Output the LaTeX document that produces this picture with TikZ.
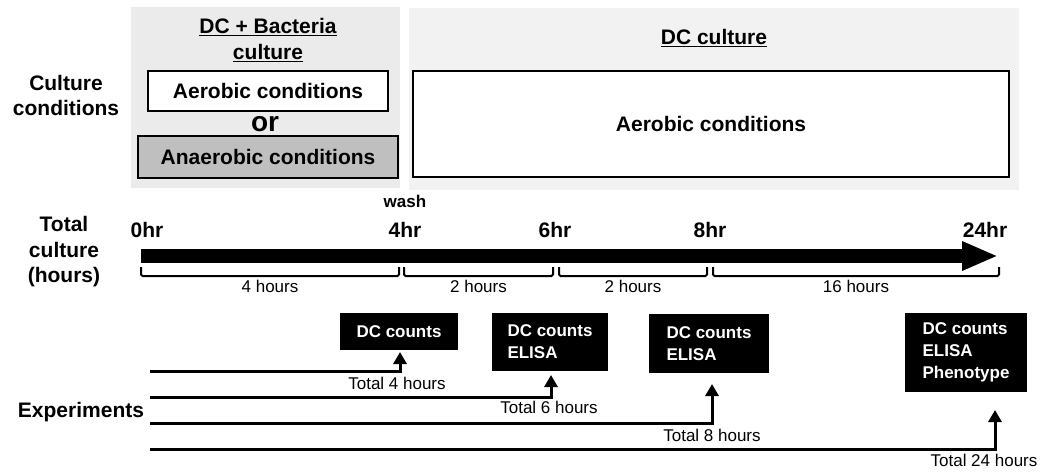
\documentclass[tikz,border=0pt]{standalone}
\usepackage{fontspec}
\setmainfont{Liberation Sans}
\usetikzlibrary{positioning, arrows.meta}
\definecolor{panelleft}{HTML}{EBEBEB}
\definecolor{panelright}{HTML}{F2F2F2}
\definecolor{anaerfill}{HTML}{BFBFBF}

\begin{document}
\begin{tikzpicture}[
  x=1pt, y=-1pt,
  panel/.style={inner sep=0pt, anchor=north west},
  cond/.style={draw, line width=2.5pt, fill=white, inner sep=0pt,
    font=\bfseries\fontsize{21}{25}\selectfont},
  head/.style={align=center, font=\bfseries\fontsize{21}{26}\selectfont},
  side/.style={align=center, font=\bfseries\fontsize{21}{25}\selectfont},
  hr/.style={font=\bfseries\fontsize{21}{25}\selectfont},
  dur/.style={font=\fontsize{17}{20}\selectfont},
  result/.style={fill=black, text=white, align=left, inner sep=0pt,
    font=\bfseries\fontsize{17}{22}\selectfont},
  brace/.style={line width=2pt, rounded corners=1.5pt},
  timebar/.style={line width=14pt, -{Triangle[length=36pt, width=27pt]}},
  exparr/.style={line width=3pt, -{Triangle[length=12pt, width=13pt]}}
]
  \useasboundingbox (0,0) rectangle (1047,472);

  % culture panels
  \node[panel, fill=panelleft, minimum width=269pt, minimum height=181pt] (dcbac) at (131,7) {};
  \node[panel, fill=panelright, minimum width=610pt, minimum height=182pt] (dconly) at (409,8) {};
  \node[head] (dcbachead) at (268,40) {\underline{DC + Bacteria}\\\underline{culture}};
  \node[head] (dconlyhead) at (714,38) {\underline{DC culture}};
  \node[cond, minimum width=240pt, minimum height=40pt] (aerleft) at (268,91) {Aerobic conditions};
  \node[font=\bfseries\fontsize{28}{30}\selectfont] (or) at (265,124) {or};
  \node[cond, fill=anaerfill, minimum width=260pt, minimum height=42pt] (anaer) at (268,157) {Anaerobic conditions};
  \node[cond, minimum width=596pt, minimum height=106pt] (aerright) at (711,124) {Aerobic conditions};

  % row labels
  \node[side] (rowcond) at (66,95) {Culture\\conditions};
  \node[side, font=\bfseries\fontsize{21}{25.5}\selectfont] (rowtime) at (64,252) {Total\\culture\\(hours)};
  \node[side] (rowexp) at (81,412) {Experiments};

  % time line
  \coordinate (h0) at (141,256);
  \coordinate (h24) at (998,256);
  \draw[timebar] (h0) -- (h24);
  \node[hr] (l0) at (147,230) {0hr};
  \node[hr] (l4) at (405,230) {4hr};
  \node[font=\bfseries\fontsize{17}{20}\selectfont] (wash) at (405,201) {wash};
  \node[hr] (l6) at (555,230) {6hr};
  \node[hr] (l8) at (710,230) {8hr};
  \node[hr] (l24) at (985,230) {24hr};

  \foreach \a/\b/\t [count=\i] in {141/399/4, 404/553/2, 559/707/2, 713/999/16} {
    \draw[brace] (\a,267) -- (\a,276) -- (\b,276) -- (\b,267);
    \node[dur] (span\i) at ({(\a+\b)/2},286) {\t\ hours};
  }

  % experiments
  \node[result, minimum width=118pt, minimum height=37pt] (res4) at (399,331.5) {DC counts};
  \node[result, minimum width=116pt, minimum height=58pt] (res6) at (550,342) {DC counts\\ELISA};
  \node[result, minimum width=120pt, minimum height=59pt] (res8) at (709,343.5) {DC counts\\ELISA};
  \node[result, minimum width=122pt, minimum height=79pt] (res24) at (966,352.5) {DC counts\\ELISA\\Phenotype};

  \coordinate (s4) at (150,371);
  \coordinate (a4) at (400,352);
  \draw[exparr] (s4) -| (a4);
  \node[dur] (tot4) at (397,383.5) {Total 4 hours};

  \coordinate (s6) at (150,397);
  \coordinate (a6) at (551,375);
  \draw[exparr] (s6) -| (a6);
  \node[dur] (tot6) at (549,407.5) {Total 6 hours};

  \coordinate (s8) at (150,423);
  \coordinate (a8) at (712,384);
  \draw[exparr] (s8) -| (a8);
  \node[dur] (tot8) at (712,435) {Total 8 hours};

  \coordinate (s24) at (150,449);
  \coordinate (a24) at (995,410);
  \draw[exparr] (s24) -| (a24);
  \node[dur] (tot24) at (984,460) {Total 24 hours};
\end{tikzpicture}
\end{document}
